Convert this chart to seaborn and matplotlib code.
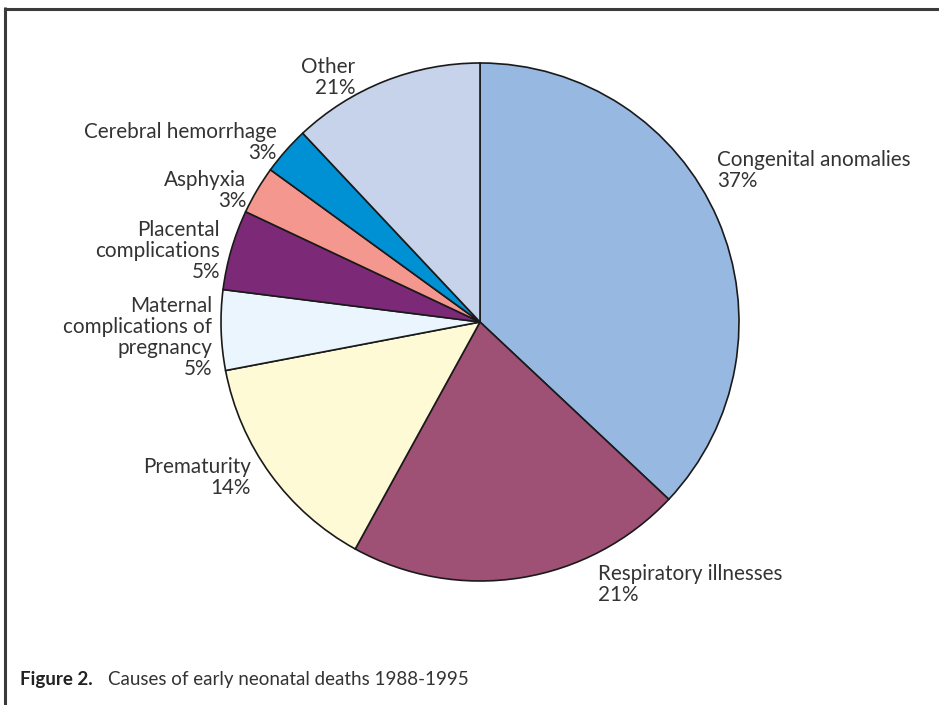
import matplotlib
matplotlib.use("Agg")
import matplotlib.pyplot as plt
from matplotlib.lines import Line2D
import seaborn as sns

# ---- data ----
categories = ["Congenital anomalies", "Respiratory illnesses", "Prematurity",
              "Maternal complications of pregnancy", "Placental complications",
              "Asphyxia", "Cerebral hemorrhage", "Other"]
values = [37, 21, 14, 5, 5, 3, 3, 12]          # wedge sizes as drawn
pct_labels = ["37%", "21%", "14%", "5%", "5%", "3%", "3%", "21%"]  # as printed
label_lines = [
    ["Congenital anomalies"],
    ["Respiratory illnesses"],
    ["Prematurity"],
    ["Maternal", "complications of", "pregnancy"],
    ["Placental", "complications"],
    ["Asphyxia"],
    ["Cerebral hemorrhage"],
    ["Other"],
]
colors = ["#97b8e1", "#9e5075", "#fffad6", "#eaf5fd", "#7c2a78",
          "#f4978e", "#0091d4", "#c7d3eb"]
caption_bold = "Figure 2."
caption_text = "Causes of early neonatal deaths 1988-1995"

# ---- style ----
sns.set_theme(style="white")
plt.rcParams["font.family"] = ["Lato", "DejaVu Sans"]
palette = sns.color_palette(colors)

W, H = 939, 705
fig = plt.figure(figsize=(W / 100, H / 100), dpi=100)
fig.patch.set_facecolor("white")

def fx(px):
    return px / W

def fy(py):
    return 1 - py / H

# pie axes: center (480,322), radius 259 px
cx, cy, r = 480, 322, 259
ax = fig.add_axes([fx(cx - r), fy(cy + r), 2 * r / W, 2 * r / H])
ax.pie(values, colors=palette, startangle=90, counterclock=False,
       wedgeprops=dict(edgecolor="#1a1a1a", linewidth=1.2))
ax.set_xlim(-1.0, 1.0)
ax.set_ylim(-1.0, 1.0)
ax.set_aspect("equal")
ax.axis("off")

# label anchor positions (pixel): x, first baseline, alignment
anchors = [
    (717, 165.5, "left"),
    (598, 580, "left"),
    (251, 473, "right"),
    (212, 311.5, "right"),
    (220, 235.5, "right"),
    (246.5, 186, "right"),
    (277, 137.5, "right"),
    (355, 73, "right"),
]
lh = 21.3
tcol = "#333333"
for lines, pct, (x, y0, ha) in zip(label_lines, pct_labels, anchors):
    for i, s in enumerate(lines + [pct]):
        fig.text(fx(x), fy(y0 + i * lh), s, ha=ha, va="baseline",
                 fontsize=14.9, color=tcol)

# caption
fig.text(fx(20), fy(685), caption_bold, ha="left", va="baseline",
         fontsize=13.5, fontweight="bold", color="#222222")
fig.text(fx(108), fy(685), caption_text, ha="left", va="baseline",
         fontsize=13.5, color="#333333")

# frame lines
fcol = "#3a3a3a"
fig.add_artist(Line2D([fx(4), fx(W)], [fy(8.7), fy(8.7)], color=fcol,
                      linewidth=2.2, transform=fig.transFigure,
                      solid_capstyle="butt"))
fig.add_artist(Line2D([fx(5.3), fx(5.3)], [fy(7.3), fy(H)], color=fcol,
                      linewidth=2.2, transform=fig.transFigure,
                      solid_capstyle="butt"))

fig.savefig("out.png", dpi=100, facecolor="white")
